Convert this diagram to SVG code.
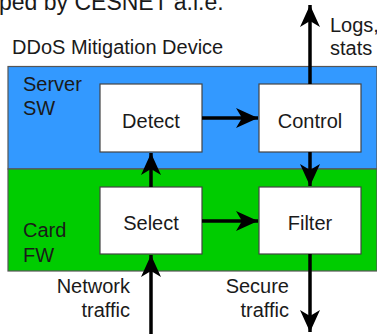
<svg xmlns="http://www.w3.org/2000/svg" width="377" height="334" viewBox="0 0 377 334">
<style>
text{font-family:"Liberation Sans",Arial,sans-serif;font-size:20px;fill:#1a1a1a}
.mid{text-anchor:middle}
.end{text-anchor:end}
.box{fill:#ffffff;stroke:#444444;stroke-width:1.2}
.conn{stroke:#000000;stroke-width:3.5;fill:none;marker-end:url(#ah)}
</style>
<defs>
<marker id="ah" markerUnits="userSpaceOnUse" markerWidth="24" markerHeight="22" viewBox="-23 -11 24 22" refX="0" refY="0" orient="auto">
<path d="M0,0 L-22,-10 L-16,0 L-22,10 Z" fill="#000000"/>
</marker>
</defs>
<rect width="377" height="334" fill="#ffffff"/>
<text x="-1" y="10" style="font-size:23px">ped by CESNET a.l.e.</text>
<text x="12" y="54">DDoS Mitigation Device</text>
<g id="server-sw">
<rect x="8" y="66.5" width="369" height="102.5" fill="#3399ff" stroke="#555555" stroke-width="1.2"/>
<text x="23" y="91">Server</text>
<text x="23" y="115">SW</text>
</g>
<g id="card-fw">
<rect x="8" y="169" width="369" height="102" fill="#00cc00" stroke="#555555" stroke-width="1.2"/>
<text x="23" y="237">Card</text>
<text x="23" y="262">FW</text>
</g>
<g id="detect">
<rect class="box" x="100" y="84" width="102" height="68"/>
<text class="mid" x="151" y="128">Detect</text>
</g>
<g id="control">
<rect class="box" x="259" y="84" width="102" height="68"/>
<text class="mid" x="310" y="128">Control</text>
</g>
<g id="select">
<rect class="box" x="100" y="187" width="102" height="67"/>
<text class="mid" x="151" y="230">Select</text>
</g>
<g id="filter">
<rect class="box" x="259" y="187" width="102" height="67"/>
<text class="mid" x="310" y="230">Filter</text>
</g>
<g id="connectors">
<line class="conn" x1="202" y1="118" x2="258" y2="118"/>
<line class="conn" x1="202" y1="221" x2="258" y2="221"/>
<line class="conn" x1="151" y1="187" x2="151" y2="153"/>
<line class="conn" x1="310" y1="152" x2="310" y2="186"/>
<line class="conn" x1="310" y1="84" x2="310" y2="5"/>
<line class="conn" x1="151" y1="334" x2="151" y2="255"/>
<line class="conn" x1="310" y1="254" x2="310" y2="332"/>
</g>
<g id="labels">
<text x="330" y="32">Logs,</text>
<text x="330" y="55">stats</text>
<text class="end" x="130" y="293">Network</text>
<text class="end" x="130" y="317">traffic</text>
<text class="end" x="289" y="293">Secure</text>
<text class="end" x="289" y="317">traffic</text>
</g>
</svg>
